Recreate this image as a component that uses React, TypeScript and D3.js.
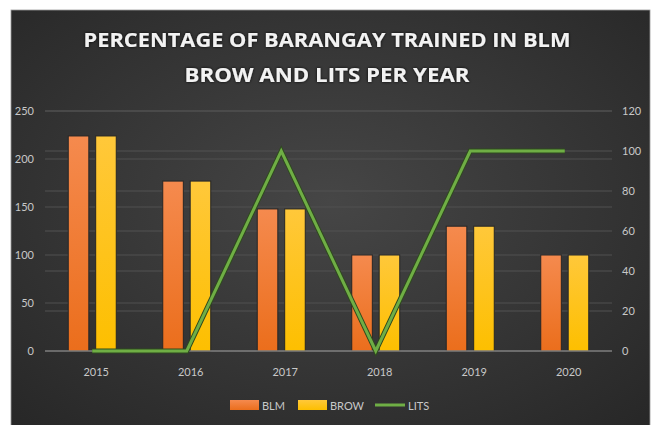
import React, { useEffect, useRef } from 'react'
import * as d3 from 'd3'

const years = ['2015', '2016', '2017', '2018', '2019', '2020']
const blm = [224, 177, 148, 100, 130, 100]
const brow = [224, 177, 148, 100, 130, 100]
const lits = [0, 0, 100, 0, 100, 100]
const leftTicks = [0, 50, 100, 150, 200, 250]
const rightTicks = [0, 20, 40, 60, 80, 100, 120]
const seriesNames = ['BLM', 'BROW', 'LITS']
const titleLines = ['PERCENTAGE OF BARANGAY TRAINED IN BLM', 'BROW AND LITS PER YEAR']

const W = 655
const H = 425

export default function App() {
  const svgRef = useRef<SVGSVGElement | null>(null)

  useEffect(() => {
    const svg = d3.select(svgRef.current)
    svg.selectAll('*').remove()

    const left = 45
    const right = 612
    const top = 111
    const bottom = 351
    const font = "Lato, 'Open Sans', sans-serif"

    const defs = svg.append('defs')
    const bg = defs.append('radialGradient').attr('id', 'bg').attr('cx', '50%').attr('cy', '45%').attr('r', '75%')
    bg.append('stop').attr('offset', '0%').attr('stop-color', '#464646')
    bg.append('stop').attr('offset', '100%').attr('stop-color', '#262626')
    const og = defs.append('linearGradient').attr('id', 'orange').attr('x1', 0).attr('y1', 0).attr('x2', 0).attr('y2', 1)
    og.append('stop').attr('offset', '0%').attr('stop-color', '#f58a4e')
    og.append('stop').attr('offset', '100%').attr('stop-color', '#eb6e1c')
    const yg = defs.append('linearGradient').attr('id', 'yellow').attr('x1', 0).attr('y1', 0).attr('x2', 0).attr('y2', 1)
    yg.append('stop').attr('offset', '0%').attr('stop-color', '#ffc83a')
    yg.append('stop').attr('offset', '100%').attr('stop-color', '#fdbf00')
    const sh = defs.append('filter').attr('id', 'shadow').attr('x', '-20%').attr('y', '-20%').attr('width', '140%').attr('height', '140%')
    sh.append('feDropShadow').attr('dx', 0).attr('dy', 0).attr('stdDeviation', 1.6).attr('flood-color', '#000').attr('flood-opacity', 0.9)

    // background
    svg.append('rect').attr('width', W).attr('height', H).attr('fill', '#ffffff')
    svg.append('rect').attr('x', 11).attr('y', 10).attr('width', 639).attr('height', H)
      .attr('fill', 'url(#bg)').attr('stroke', '#9a9a9a').attr('stroke-width', 0.8)

    // title
    svg.append('g').attr('filter', 'url(#shadow)')
      .selectAll('text').data(titleLines).enter().append('text')
      .attr('x', 327).attr('y', (d, i) => 47 + i * 35)
      .attr('text-anchor', 'middle')
      .attr('font-family', "'Open Sans', sans-serif").attr('font-weight', 'bold').attr('font-size', 20)
      .attr('textLength', (d, i) => (i === 0 ? 487 : 285)).attr('lengthAdjust', 'spacingAndGlyphs')
      .attr('fill', '#f2f2f2')
      .text(d => d)

    const x = d3.scaleBand().domain(years).range([left, right])
    const xSub = d3.scaleBand().domain(['BLM', 'BROW']).range([0, 48]).paddingInner(0.25)
    const yL = d3.scaleLinear().domain([0, 250]).range([bottom, top])
    const yR = d3.scaleLinear().domain([0, 120]).range([bottom, top])

    // gridlines
    svg.append('g').selectAll('line').data(rightTicks.slice(1)).enter().append('line')
      .attr('x1', left).attr('x2', right)
      .attr('y1', d => yR(d)).attr('y2', d => yR(d))
      .attr('stroke', '#535353').attr('stroke-width', 1)
    svg.append('g').selectAll('line').data(leftTicks.slice(1)).enter().append('line')
      .attr('x1', left).attr('x2', right)
      .attr('y1', d => yL(d)).attr('y2', d => yL(d))
      .attr('stroke', '#505050').attr('stroke-width', 1)

    // bars
    const groups = svg.append('g').selectAll('g').data(years).enter().append('g')
      .attr('transform', d => `translate(${(x(d) as number) + x.bandwidth() / 2 - 24},0)`)
    groups.append('rect')
      .attr('x', xSub('BLM') as number).attr('width', xSub.bandwidth())
      .attr('y', (d, i) => yL(blm[i])).attr('height', (d, i) => bottom - yL(blm[i]))
      .attr('fill', 'url(#orange)').attr('stroke', '#262626').attr('stroke-width', 1)
    groups.append('rect')
      .attr('x', xSub('BROW') as number).attr('width', xSub.bandwidth())
      .attr('y', (d, i) => yL(brow[i])).attr('height', (d, i) => bottom - yL(brow[i]))
      .attr('fill', 'url(#yellow)').attr('stroke', '#262626').attr('stroke-width', 1)

    // baseline
    svg.append('line').attr('x1', left).attr('x2', right).attr('y1', bottom).attr('y2', bottom)
      .attr('stroke', '#a6a6a6').attr('stroke-width', 1.2)

    // LITS line
    const line = d3.line<number>()
      .x((d, i) => (x(years[i]) as number) + x.bandwidth() / 2)
      .y(d => yR(d))
    svg.append('path').datum(lits).attr('d', line)
      .attr('fill', 'none').attr('stroke', '#2f4a1e').attr('stroke-width', 5).attr('stroke-linejoin', 'miter')
    svg.append('path').datum(lits).attr('d', line)
      .attr('fill', 'none').attr('stroke', '#6fae45').attr('stroke-width', 3).attr('stroke-linejoin', 'miter')

    // axis labels
    const tickColor = '#c8c8c8'
    svg.append('g').selectAll('text').data(leftTicks).enter().append('text')
      .attr('x', 34).attr('y', d => yL(d)).attr('dy', '0.35em').attr('text-anchor', 'end')
      .attr('font-family', font).attr('font-size', 11).attr('fill', tickColor).text(d => d)
    svg.append('g').selectAll('text').data(rightTicks).enter().append('text')
      .attr('x', 622).attr('y', d => yR(d)).attr('dy', '0.35em').attr('text-anchor', 'start')
      .attr('font-family', font).attr('font-size', 11).attr('fill', tickColor).text(d => d)
    svg.append('g').selectAll('text').data(years).enter().append('text')
      .attr('x', d => (x(d) as number) + x.bandwidth() / 2 + 4).attr('y', 376).attr('text-anchor', 'middle')
      .attr('font-family', font).attr('font-size', 11).attr('fill', tickColor).text(d => d)

    // legend
    const legendX = [230, 298, 375]
    const legendColors = ['url(#orange)', 'url(#yellow)', '#6fae45']
    const lg = svg.append('g').selectAll('g').data(seriesNames).enter().append('g')
      .attr('transform', (d, i) => `translate(${legendX[i]},400)`)
    lg.filter((d, i) => i < 2).append('rect')
      .attr('width', 29).attr('height', 10).attr('fill', (d, i) => legendColors[i])
    lg.filter((d, i) => i === 2).append('line')
      .attr('x1', 0).attr('x2', 30).attr('y1', 5).attr('y2', 5)
      .attr('stroke', '#6fae45').attr('stroke-width', 3)
    lg.append('text')
      .attr('x', (d, i) => (i === 2 ? 33 : 32)).attr('y', 9.5)
      .attr('font-family', font).attr('font-size', 11).attr('fill', tickColor).text(d => d)
  }, [])

  return (
    <div style={{ position: 'absolute', left: 0, top: 0 }}>
      <svg ref={svgRef} width={W} height={H} style={{ display: 'block' }} />
    </div>
  )
}
